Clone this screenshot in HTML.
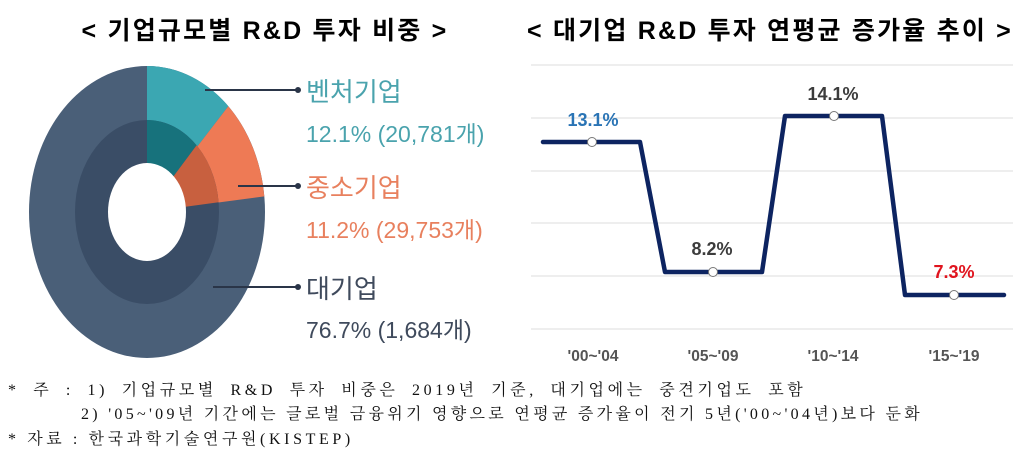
<!DOCTYPE html>
<html><head><meta charset="utf-8"><style>
body{margin:0;width:1025px;height:458px;background:#fff;overflow:hidden;font-family:"Liberation Sans","Noto Sans CJK KR",sans-serif}
svg{position:absolute;left:0;top:0}
.n{position:absolute;left:8px;font-family:"Liberation Serif","Noto Serif CJK SC","Noto Sans CJK KR",serif;font-size:16px;letter-spacing:3.6px;white-space:pre;color:#111}
</style></head><body>
<svg width="1025" height="458" xmlns="http://www.w3.org/2000/svg">
<text x="265" y="39" text-anchor="middle" font-size="25" letter-spacing="2.2" font-weight="bold" font-family="Liberation Sans,Noto Sans CJK KR,sans-serif">&lt; 기업규모별 R&amp;D 투자 비중 &gt;</text>
<text x="770" y="39" text-anchor="middle" font-size="25" letter-spacing="2.2" font-weight="bold" font-family="Liberation Sans,Noto Sans CJK KR,sans-serif">&lt; 대기업 R&amp;D 투자 연평균 증가율 추이 &gt;</text>
<!-- donut -->
<ellipse cx="147" cy="212" rx="118" ry="146" fill="#4a5f78"/>
<path d="M147,212 L147,66 A118,146 0 0 1 228.3,106.2Z" fill="#3ba7b2"/>
<path d="M147,212 L228.3,106.2 A118,146 0 0 1 264.3,196.4Z" fill="#ee7a55"/>
<ellipse cx="147" cy="212" rx="72" ry="92" fill="#3a4d66"/>
<path d="M147,212 L147,120 A72,92 0 0 1 196.6,145.3Z" fill="#17727c"/>
<path d="M147,212 L196.6,145.3 A72,92 0 0 1 218.6,202.2Z" fill="#c8603f"/>
<ellipse cx="147" cy="212" rx="39" ry="49" fill="#fff"/>
<g stroke="#2a3548" stroke-width="2"><line x1="205" y1="90" x2="298" y2="90"/><line x1="238" y1="186" x2="298" y2="186"/><line x1="213" y1="287" x2="298" y2="287"/></g>
<g fill="#2a3548"><circle cx="298" cy="90" r="3"/><circle cx="298" cy="186" r="3"/><circle cx="298" cy="287" r="3"/></g>
<g font-size="26" font-family="Liberation Sans,Noto Sans CJK KR,sans-serif">
<text x="306" y="101" fill="#4aa3ad">벤처기업</text>
<text x="306" y="142" fill="#4aa3ad" font-size="23">12.1% (20,781개)</text>
<text x="306" y="197" fill="#e8805e">중소기업</text>
<text x="306" y="238" fill="#e8805e" font-size="23">11.2% (29,753개)</text>
<text x="306" y="298" fill="#3f4a5c">대기업</text>
<text x="306" y="338" fill="#3f4a5c" font-size="23">76.7% (1,684개)</text>
</g>
<!-- line chart -->
<g stroke="#dcdcdc" stroke-width="1">
<line x1="531" y1="65" x2="1013" y2="65"/><line x1="531" y1="118" x2="1013" y2="118"/><line x1="531" y1="171" x2="1013" y2="171"/><line x1="531" y1="223" x2="1013" y2="223"/><line x1="531" y1="276" x2="1013" y2="276"/><line x1="531" y1="329" x2="1013" y2="329"/>
</g>
<polyline points="543,142 640,142 665,272 762,272 785,116 882,116 905,295 1004,295" fill="none" stroke="#0d2461" stroke-width="4.5" stroke-linejoin="round" stroke-linecap="round"/>
<g fill="#fff" stroke="#777" stroke-width="1"><circle cx="592" cy="142" r="4.5"/><circle cx="713" cy="272" r="4.5"/><circle cx="834" cy="116" r="4.5"/><circle cx="954" cy="295" r="4.5"/></g>
<g font-size="18" font-weight="bold" text-anchor="middle">
<text x="593" y="126" fill="#2a74b5">13.1%</text>
<text x="712" y="255" fill="#3c3c3c">8.2%</text>
<text x="833" y="100" fill="#3c3c3c">14.1%</text>
<text x="954" y="278" fill="#e0141e">7.3%</text>
</g>
<g font-size="15.5" font-weight="bold" text-anchor="middle" fill="#555">
<text x="593" y="361">'00~'04</text><text x="713" y="361">'05~'09</text><text x="833" y="361">'10~'14</text><text x="954" y="361">'15~'19</text>
</g>
</svg>
<div class="n" style="top:377px;word-spacing:6px">* 주 : 1) 기업규모별 R&amp;D 투자 비중은 2019년 기준, 대기업에는 중견기업도 포함</div>
<div class="n" style="top:401px;letter-spacing:3.3px">          2) '05~'09년 기간에는 글로벌 금융위기 영향으로 연평균 증가율이 전기 5년('00~'04년)보다 둔화</div>
<div class="n" style="top:426px">* 자료 : 한국과학기술연구원(KISTEP)</div>
</body></html>
